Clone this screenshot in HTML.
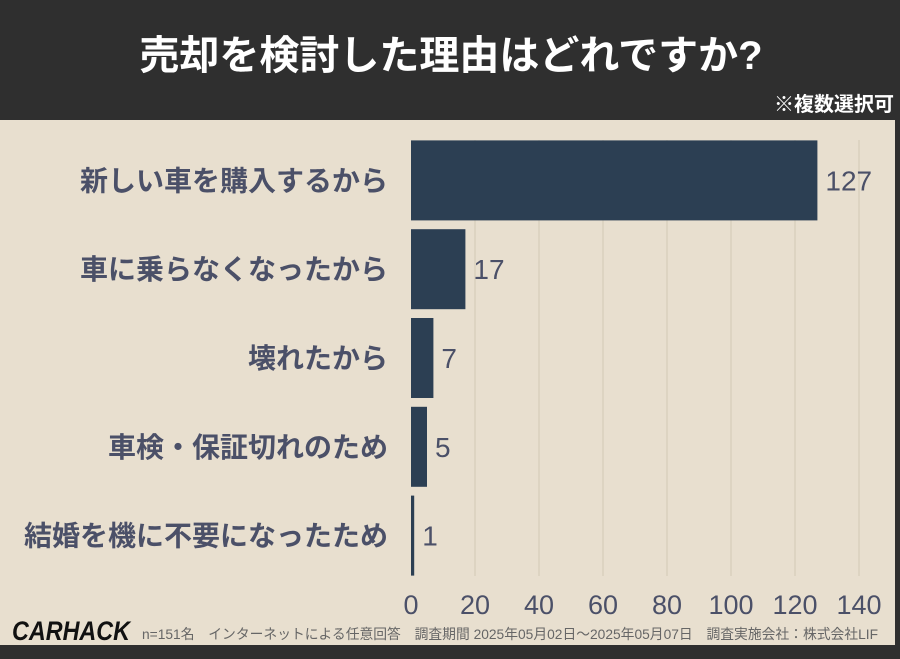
<!DOCTYPE html>
<html><head><meta charset="utf-8"><style>
body{margin:0;width:900px;height:654px;overflow:hidden;background:#2f2f2f;font-family:"Liberation Sans","Noto Sans CJK JP",sans-serif;}
#wrap{position:relative;width:900px;height:654px;}
</style></head><body>
<div id="wrap">
<svg width="900" height="654" xmlns="http://www.w3.org/2000/svg">
<rect x="0" y="0" width="900" height="654" fill="#2f2f2f"/>
<rect x="0" y="120" width="895" height="525" fill="#e8dfcf"/>
<text x="451" y="69" text-anchor="middle" fill="#fff" font-size="40" font-weight="bold" font-family="Liberation Sans, Noto Sans CJK JP, sans-serif">売却を検討した理由はどれですか?</text>
<text x="894" y="111" text-anchor="end" fill="#fff" font-size="20" font-weight="bold" font-family="Liberation Sans, Noto Sans CJK JP, sans-serif">※複数選択可</text>
<g id="grid"></g>
<g id="bars"></g>
<g id="ticks"></g>
<text x="12" y="640" fill="#111" font-size="27" font-weight="bold" font-style="italic" font-family="Liberation Sans, sans-serif" textLength="118" lengthAdjust="spacingAndGlyphs">CARHACK</text>
<text x="142" y="639" fill="#666" font-size="14" font-family="Liberation Sans, Noto Sans CJK JP, sans-serif" textLength="736" lengthAdjust="spacingAndGlyphs">n=151名　インターネットによる任意回答　調査期間 2025年05月02日〜2025年05月07日　調査実施会社：株式会社LIF</text>
</svg>
</div>
<script>
const categories=["新しい車を購入するから","車に乗らなくなったから","壊れたから","車検・保証切れのため","結婚を機に不要になったため"];
const values=[127,17,7,5,1];
const tickValues=[0,20,40,60,80,100,120,140];
const NS="http://www.w3.org/2000/svg";
const x0=411,x1=859,xMax=140;
const xs=v=>x0+(v/xMax)*(x1-x0);
const top0=136,band=88.8,barH=80;
const ys=i=>top0+i*band+(band-barH)/2;
const grid=document.getElementById('grid'),bars=document.getElementById('bars'),ticks=document.getElementById('ticks');
function mk(tag,attrs){const e=document.createElementNS(NS,tag);for(const k in attrs)e.setAttribute(k,attrs[k]);return e;}
tickValues.forEach(t=>{
  if(t>0){const l=mk('line',{x1:xs(t),x2:xs(t),y1:140,y2:576,stroke:'#d6ccbb','stroke-width':1.2});
  
  
  grid.appendChild(l);}
  const tx=mk('text',{x:xs(t),y:614,'text-anchor':'middle','font-size':27,fill:'#4b5068','font-family':'Liberation Sans, sans-serif'});
  tx.textContent=t;
  
  
  ticks.appendChild(tx);
});
categories.forEach((c,i)=>{
  const y=ys(i);
  const r=mk('rect',{x:x0,y:y,width:Math.max(xs(values[i])-x0,2),height:barH,fill:'#2c3f53'});
  
  
  bars.appendChild(r);
  const lb=mk('text',{x:388,y:y+barH/2+10,'text-anchor':'end','font-size':28,'font-weight':'bold',fill:'#4b5068','font-family':'Liberation Sans, Noto Sans CJK JP, sans-serif'});
  lb.textContent=c;
  
  
  bars.appendChild(lb);
  const v=mk('text',{x:xs(values[i])+8,y:y+barH/2+10,'font-size':28,fill:'#4b5068','font-family':'Liberation Sans, sans-serif'});
  v.textContent=values[i];
  
  
  bars.appendChild(v);
});
</script>
</body></html>
